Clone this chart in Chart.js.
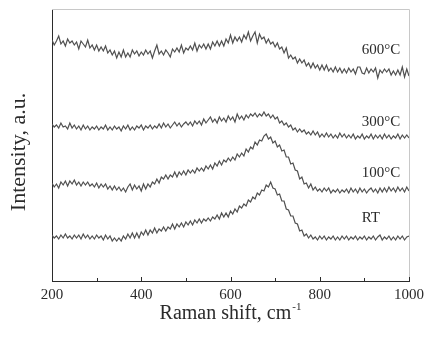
<!DOCTYPE html>
<html>
<head>
<meta charset="utf-8">
<script src="https://cdn.jsdelivr.net/npm/chart.js@4.4.1/dist/chart.umd.min.js"></script>
<style>
  html, body { margin: 0; padding: 0; background: #fff; }
  #wrap { width: 429px; height: 342px; position: relative; }
</style>
</head>
<body>
<div id="wrap"><canvas id="ramanChart"></canvas></div>
<script>
// Raman shift grid, cm-1
const shifts = [
  200,205,210,215,220,225,230,235,240,245,250,255,260,265,270,275,280,285,290,295,
  300,305,310,315,320,325,330,335,340,345,350,355,360,365,370,375,380,385,390,395,
  400,405,410,415,420,425,430,435,440,445,450,455,460,465,470,475,480,485,490,495,
  500,505,510,515,520,525,530,535,540,545,550,555,560,565,570,575,580,585,590,595,
  600,605,610,615,620,625,630,635,640,645,650,655,660,665,670,675,680,685,690,695,
  700,705,710,715,720,725,730,735,740,745,750,755,760,765,770,775,780,785,790,795,
  800,805,810,815,820,825,830,835,840,845,850,855,860,865,870,875,880,885,890,895,
  900,905,910,915,920,925,930,935,940,945,950,955,960,965,970,975,980,985,990,995,
  1000
];

// intensities (a.u., stacked offsets as in the figure)
const int600 = [
  241,236,240,245,237,240,235,242,238,240,236,239,232,240,237,234,241,233,236,231,
  236,230,234,230,235,228,231,226,230,223,229,224,231,224,228,224,231,227,230,225,
  229,226,231,227,230,223,230,236,227,230,226,231,228,224,232,229,233,229,236,228,
  233,231,235,231,238,230,236,233,237,232,237,232,239,235,240,235,240,235,242,238,
  246,238,244,240,244,239,246,242,249,240,245,249,238,247,242,244,238,242,237,239,
  234,238,232,234,228,233,223,226,222,224,218,222,218,221,215,218,213,218,213,216,
  211,216,211,216,210,213,209,214,209,213,208,212,208,213,209,212,207,214,214,208,
  207,213,208,212,209,213,203,211,208,212,209,212,206,210,206,211,206,214,204,212,
  205
];
const int300 = [
  157,154,156,153,158,154,155,152,158,153,156,152,155,151,156,152,155,151,154,152,
  155,151,154,152,156,151,154,151,155,152,154,150,155,152,156,151,154,151,155,153,
  156,151,155,153,156,152,155,153,157,153,158,154,157,153,156,159,155,158,154,157,
  159,156,159,155,160,157,160,156,162,158,161,164,159,162,158,164,160,163,159,165,
  161,164,159,167,162,165,161,166,163,167,165,168,164,167,165,169,165,167,163,166,
  162,164,158,160,156,158,154,156,151,153,149,152,149,151,147,149,146,150,146,149,
  144,147,144,148,144,147,143,146,143,148,144,147,143,146,143,147,142,145,143,147,
  142,145,143,147,142,146,143,146,142,147,143,146,142,145,143,147,142,146,143,146,
  143
];
const int100 = [
  98,94,97,93,99,96,100,95,100,97,101,96,99,95,99,96,99,95,97,94,
  98,93,97,94,97,92,95,91,95,91,94,90,93,89,94,97,91,96,92,95,
  90,97,92,97,94,99,97,102,98,104,102,106,102,106,104,109,104,109,106,110,
  106,111,108,111,108,113,110,113,110,115,112,116,112,118,115,120,116,121,119,123,
  120,124,121,127,124,128,125,132,129,134,132,139,136,141,140,145,147,142,144,138,
  140,134,136,130,131,124,124,117,118,111,110,102,104,97,98,93,97,91,94,90,
  92,89,93,90,93,88,91,89,92,88,91,89,92,88,93,89,92,88,93,89,
  92,88,91,93,89,92,88,93,89,93,89,94,90,93,89,94,90,93,89,94,
  90
];
const intRT = [
  46,43,45,42,46,43,47,43,45,42,46,43,46,42,47,43,46,42,45,42,
  46,43,45,41,46,42,45,40,43,40,43,40,45,42,47,43,48,43,48,43,
  49,46,51,46,51,48,53,48,52,50,54,50,54,52,57,52,57,54,58,54,
  59,56,60,56,61,58,62,58,62,60,63,60,64,62,66,62,68,64,68,64,
  70,67,72,69,75,73,77,75,81,79,84,82,88,86,91,90,96,94,99,93,
  92,86,87,80,80,72,71,65,65,58,57,50,51,45,47,43,46,42,44,41,
  45,42,45,41,44,42,45,41,44,41,45,42,45,41,44,42,45,41,44,42,
  45,41,44,42,45,41,44,46,41,44,42,45,41,44,41,45,42,45,41,44,
  45
];

const seriesNames = ["600\u00B0C", "300\u00B0C", "100\u00B0C", "RT"];
const seriesValues = [int600, int300, int100, intRT];

// curve labels placed in data coordinates
const labelX = [894, 894, 894, 894];
const labelY = [231, 159, 108, 63];

// x axis
const xMin = 200, xMax = 1000, xStep = 100;
const xLabelled = [200, 400, 600, 800, 1000];

const serif = '"Liberation Serif", "Times New Roman", serif';
const ink = "#2b2b2b";
const lineColor = "#505050";

const datasets = seriesValues.map((vals, i) => ({
  label: seriesNames[i],
  data: shifts.map((x, j) => ({ x, y: vals[j] })),
  borderColor: lineColor,
  borderWidth: 1.2,
  pointRadius: 0,
  tension: 0,
  fill: false
}));

// inward ticks, frame, curve labels and axis titles
const decorations = {
  id: "decorations",
  afterDraw(chart) {
    const { ctx, chartArea: a, scales } = chart;
    const xs = scales.x, ys = scales.y;
    ctx.save();

    // light frame on top / right
    ctx.strokeStyle = "#c8c8c8";
    ctx.lineWidth = 1;
    ctx.beginPath();
    ctx.moveTo(a.left, a.top + 0.5);
    ctx.lineTo(a.right + 0.5, a.top + 0.5);
    ctx.lineTo(a.right + 0.5, a.bottom);
    ctx.stroke();

    // tick marks pointing inside
    ctx.strokeStyle = ink;
    ctx.beginPath();
    xs.ticks.forEach(t => {
      const px = Math.round(xs.getPixelForValue(t.value)) + 0.5;
      const len = xLabelled.includes(t.value) ? 4 : 3;
      ctx.moveTo(px, a.bottom);
      ctx.lineTo(px, a.bottom - len);
    });
    ctx.stroke();

    // curve labels
    ctx.fillStyle = ink;
    ctx.font = "15px " + serif;
    ctx.textAlign = "left";
    ctx.textBaseline = "middle";
    seriesNames.forEach((name, i) => {
      ctx.fillText(name, xs.getPixelForValue(labelX[i]), ys.getPixelForValue(labelY[i]));
    });

    // x title with superscript
    ctx.textBaseline = "alphabetic";
    const main = "Raman shift, cm";
    const sup = "-1";
    ctx.font = "20px " + serif;
    const wMain = ctx.measureText(main).width;
    ctx.font = "11px " + serif;
    const wSup = ctx.measureText(sup).width;
    const x0 = 230 - (wMain + wSup) / 2;
    ctx.font = "20px " + serif;
    ctx.fillText(main, x0, 319);
    ctx.font = "11px " + serif;
    ctx.fillText(sup, x0 + wMain + 1, 310);

    // y title
    ctx.font = "22px " + serif;
    ctx.translate(19, 152);
    ctx.rotate(-Math.PI / 2);
    ctx.textAlign = "center";
    ctx.textBaseline = "middle";
    ctx.fillText("Intensity, a.u.", 0, 0);

    ctx.restore();
  }
};

new Chart(document.getElementById("ramanChart").getContext("2d"), {
  type: "line",
  data: { datasets },
  options: {
    responsive: true,
    maintainAspectRatio: false,
    animation: false,
    events: [],
    layout: { padding: { top: 9, right: 16, left: 0, bottom: 0 } },
    plugins: {
      legend: { display: false },
      tooltip: { enabled: false }
    },
    scales: {
      x: {
        type: "linear",
        min: xMin,
        max: xMax,
        afterFit: s => { s.height = 61; },
        grid: { display: false, drawTicks: false },
        border: { display: true, color: ink, width: 1 },
        ticks: {
          stepSize: xStep,
          autoSkip: false,
          maxRotation: 0,
          padding: 5,
          color: ink,
          font: { family: serif, size: 15 },
          callback: v => (xLabelled.includes(v) ? String(v) : "")
        }
      },
      y: {
        min: 0,
        max: 272,
        afterFit: s => { s.width = 52; },
        grid: { display: false, drawTicks: false },
        border: { display: true, color: ink, width: 1 },
        ticks: { display: false }
      }
    }
  },
  plugins: [decorations]
});
</script>
</body>
</html>
